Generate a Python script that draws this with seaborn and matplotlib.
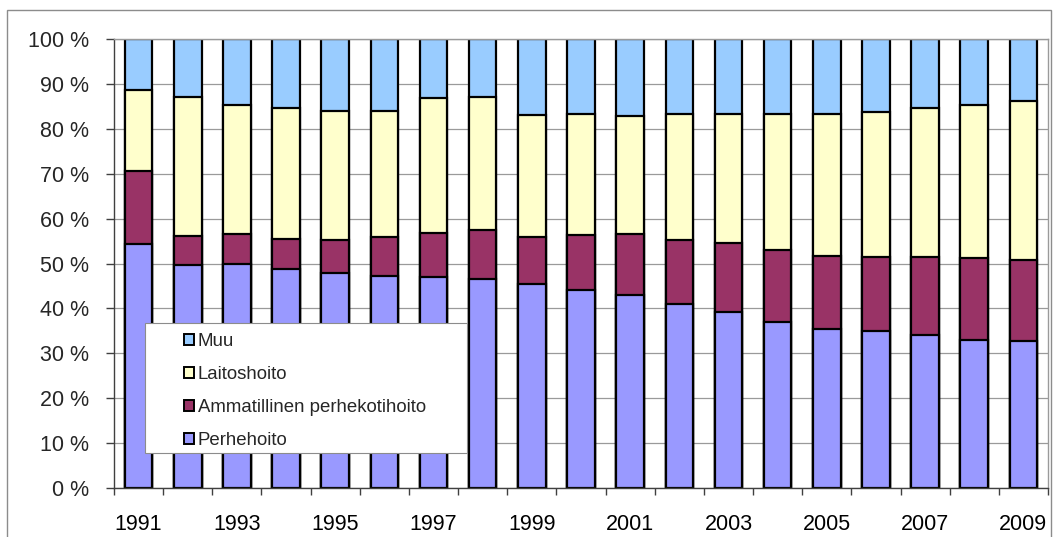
import matplotlib
matplotlib.use("Agg")
import matplotlib.pyplot as plt
from matplotlib.patches import Patch, Rectangle
import numpy as np
import pandas as pd
import seaborn as sns

years = [str(y) for y in range(1991, 2010)]
perhehoito = [54.3, 49.7, 50.0, 48.7, 47.8, 47.3, 47.1, 46.5, 45.4, 44.1,
              43.0, 40.9, 39.2, 37.0, 35.5, 35.0, 34.0, 33.0, 32.7]
ammatillinen = [16.4, 6.4, 6.5, 6.8, 7.5, 8.5, 9.8, 10.9, 10.5, 12.2,
                13.5, 14.3, 15.4, 15.9, 16.2, 16.4, 17.4, 18.3, 18.1]
laitoshoito = [17.9, 30.9, 28.7, 29.1, 28.7, 28.2, 29.9, 29.7, 27.2, 27.0,
               26.4, 28.0, 28.6, 30.5, 31.7, 32.4, 33.2, 34.0, 35.5]
muu = [11.4, 13.0, 14.8, 15.4, 16.0, 16.0, 13.2, 12.9, 16.9, 16.7,
       17.1, 16.8, 16.8, 16.6, 16.6, 16.2, 15.4, 14.7, 13.7]

series_names = ["Perhehoito", "Ammatillinen perhekotihoito", "Laitoshoito", "Muu"]
colors = {"Perhehoito": "#9999FF",
          "Ammatillinen perhekotihoito": "#993366",
          "Laitoshoito": "#FFFFCC",
          "Muu": "#99CCFF"}

df = pd.DataFrame({"Vuosi": years,
                   "Perhehoito": perhehoito,
                   "Ammatillinen perhekotihoito": ammatillinen,
                   "Laitoshoito": laitoshoito,
                   "Muu": muu})
# cumulative stacks
cum = df[series_names].cumsum(axis=1)
cum["Vuosi"] = df["Vuosi"]

sns.set_style("white")
plt.rcParams["font.family"] = ["Liberation Sans", "DejaVu Sans"]

W, H = 1058, 537
fig = plt.figure(figsize=(W / 100, H / 100), dpi=100)
ax = fig.add_axes([114 / W, 1 - 488 / H, (1048 - 114) / W, (488 - 39) / H])

for name in reversed(series_names):
    sns.barplot(data=cum, x="Vuosi", y=name, color=colors[name], saturation=1,
                edgecolor="black", linewidth=1.6, width=0.56, errorbar=None, ax=ax)

ax.set_xlabel("")
ax.set_ylabel("")
ax.set_ylim(0, 100)
ax.set_xlim(-0.5, len(years) - 0.5)
ax.set_yticks(np.arange(0, 101, 10))
ax.set_yticklabels([f"{v} %" for v in range(0, 101, 10)])
ax.set_xticks(range(0, len(years), 2))
ax.set_xticklabels(years[::2])
ax.set_xticks(np.arange(-0.5, len(years), 1), minor=True)
ax.tick_params(axis="x", which="major", length=0, pad=19, labelsize=15.5, colors="black")
ax.tick_params(axis="x", which="minor", length=5, width=1, color="#404040", direction="out")
ax.tick_params(axis="y", which="major", length=6, width=1, color="#404040", pad=12,
               labelsize=15.5, direction="out")
ax.tick_params(left=True, bottom=True, which="both")

ax.yaxis.grid(True, color="#9a9a9a", linewidth=0.9)
ax.set_axisbelow(True)
for s in ["top", "right"]:
    ax.spines[s].set_color("#9a9a9a")
    ax.spines[s].set_linewidth(1.0)
for s in ["left", "bottom"]:
    ax.spines[s].set_color("#404040")
    ax.spines[s].set_linewidth(1.0)

# figure border
fig.add_artist(Rectangle((7 / W, -0.02), (1051 - 7) / W, 1.02 - 10 / H,
                         transform=fig.transFigure, facecolor="none",
                         edgecolor="#8c8c8c", linewidth=1.0, zorder=1))

# legend box
fig.add_artist(Rectangle((145 / W, 1 - 453 / H), 322 / W, 130 / H,
                         transform=fig.transFigure, facecolor="white",
                         edgecolor="#8c8c8c", linewidth=0.8, zorder=3))
handles = [Patch(facecolor=colors[n], edgecolor="black", linewidth=1.4, label=n)
           for n in reversed(series_names)]
fig.legend(handles=handles, loc="upper left", bbox_to_anchor=(184 / W, 1 - 333 / H),
           frameon=False, fontsize=13.4, handlelength=0.55, handleheight=0.55,
           handletextpad=0.2, labelspacing=0.86, borderpad=0, borderaxespad=0)

fig.savefig("out.png", dpi=100)
